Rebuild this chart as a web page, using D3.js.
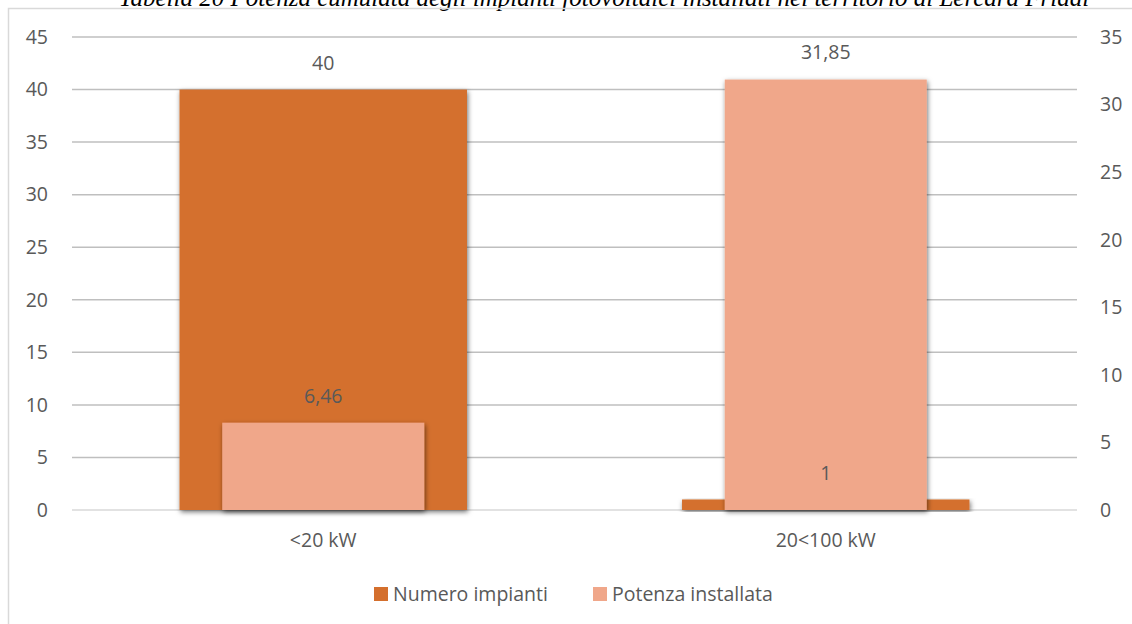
<!DOCTYPE html>
<html>
<head>
<meta charset="utf-8">
<script src="https://cdn.jsdelivr.net/npm/d3@7"></script>
<style>
  body { margin: 0; background: #fff; }
  svg text { font-family: "Open Sans", "Liberation Sans", sans-serif; fill: #595959; }
  svg text.title { font-family: "Liberation Serif", serif; font-style: italic; fill: #000; }
</style>
</head>
<body>
<svg id="chart" width="1132" height="624"></svg>
<script>
var categories = ["<20 kW", "20<100 kW"];
var numeroImpianti = [40, 1];
var potenzaInstallata = [6.46, 31.85];
var leftTicks = [0, 5, 10, 15, 20, 25, 30, 35, 40, 45];
var rightTicks = [0, 5, 10, 15, 20, 25, 30, 35];
var seriesNames = ["Numero impianti", "Potenza installata"];
var colors = ["#d46f2d", "#f0a78a"];

var svg = d3.select("#chart");
var margin = { top: 37, bottom: 114, left: 72, right: 55 };
var width = 1132, height = 624;
var fontSize = "19.5px";

var x = d3.scaleBand().domain(categories).range([margin.left, width - margin.right]);
var yLeft = d3.scaleLinear().domain([0, 45]).range([height - margin.bottom, margin.top]);
var yRight = d3.scaleLinear().domain([0, 35]).range([height - margin.bottom, margin.top]);
var fmt = function(v) { return String(v).replace(".", ","); };

var defs = svg.append("defs");
var shadow = defs.append("filter").attr("id", "shadow")
    .attr("x", "-10%").attr("y", "-10%").attr("width", "120%").attr("height", "120%");
shadow.append("feDropShadow")
    .attr("dx", 1).attr("dy", 2).attr("stdDeviation", 2.5)
    .attr("flood-color", "#000").attr("flood-opacity", 0.55);

// title, cut at the top of the frame
svg.append("text")
    .attr("class", "title")
    .attr("x", 604).attr("y", 6)
    .attr("text-anchor", "middle")
    .style("font-size", "25px")
    .text("Tabella 20 Potenza cumulata degli impianti fotovoltaici installati nel territorio di Lercara Friddi");

// chart frame
svg.append("rect")
    .attr("x", 8.5).attr("y", 8.5)
    .attr("width", 1140).attr("height", 640)
    .attr("fill", "none").attr("stroke", "#d9d9d9").attr("stroke-width", 1.5);

// gridlines
svg.append("g").selectAll("line")
    .data(leftTicks)
    .enter().append("line")
    .attr("x1", margin.left).attr("x2", width - margin.right)
    .attr("y1", function(d) { return yLeft(d); })
    .attr("y2", function(d) { return yLeft(d); })
    .attr("stroke", function(d) { return d === 0 ? "#d9d9d9" : "#bfbfbf"; })
    .attr("stroke-width", 1.5);

// left axis labels
svg.append("g").selectAll("text")
    .data(leftTicks)
    .enter().append("text")
    .attr("x", 48).attr("y", function(d) { return yLeft(d); })
    .attr("dy", "0.35em")
    .attr("text-anchor", "end")
    .style("font-size", fontSize)
    .text(function(d) { return d; });

// right axis labels
svg.append("g").selectAll("text")
    .data(rightTicks)
    .enter().append("text")
    .attr("x", 1100).attr("y", function(d) { return yRight(d); })
    .attr("dy", "0.35em")
    .attr("text-anchor", "start")
    .style("font-size", fontSize)
    .text(function(d) { return d; });

var bw = x.bandwidth();
var numW = bw * 0.572, potW = bw * 0.402;
var base = height - margin.bottom;

// Numero impianti (left axis)
svg.append("g").selectAll("rect")
    .data(numeroImpianti)
    .enter().append("rect")
    .attr("x", function(d, i) { return x(categories[i]) + (bw - numW) / 2; })
    .attr("y", function(d) { return yLeft(d); })
    .attr("width", numW)
    .attr("height", function(d) { return base - yLeft(d); })
    .attr("fill", colors[0])
    .attr("filter", "url(#shadow)");

// Potenza installata (right axis)
svg.append("g").selectAll("rect")
    .data(potenzaInstallata)
    .enter().append("rect")
    .attr("x", function(d, i) { return x(categories[i]) + (bw - potW) / 2; })
    .attr("y", function(d) { return yRight(d); })
    .attr("width", potW)
    .attr("height", function(d) { return base - yRight(d); })
    .attr("fill", colors[1])
    .attr("filter", "url(#shadow)");

// data labels
svg.append("g").selectAll("text")
    .data(numeroImpianti)
    .enter().append("text")
    .attr("x", function(d, i) { return x(categories[i]) + bw / 2; })
    .attr("y", function(d) { return yLeft(d) - 26; })
    .attr("dy", "0.35em")
    .attr("text-anchor", "middle")
    .style("font-size", fontSize)
    .text(fmt);

svg.append("g").selectAll("text")
    .data(potenzaInstallata)
    .enter().append("text")
    .attr("x", function(d, i) { return x(categories[i]) + bw / 2; })
    .attr("y", function(d) { return yRight(d) - 27; })
    .attr("dy", "0.35em")
    .attr("text-anchor", "middle")
    .style("font-size", fontSize)
    .text(fmt);

// category labels
svg.append("g").selectAll("text")
    .data(categories)
    .enter().append("text")
    .attr("x", function(d) { return x(d) + bw / 2; })
    .attr("y", 540)
    .attr("dy", "0.35em")
    .attr("text-anchor", "middle")
    .style("font-size", fontSize)
    .text(function(d) { return d; });

// legend
var legendX = [374, 593];
var legend = svg.append("g").selectAll("g")
    .data(seriesNames)
    .enter().append("g")
    .attr("transform", function(d, i) { return "translate(" + legendX[i] + ",594)"; });
legend.append("rect")
    .attr("x", 0).attr("y", -7)
    .attr("width", 14).attr("height", 14)
    .attr("fill", function(d, i) { return colors[i]; });
legend.append("text")
    .attr("x", 19).attr("y", 0)
    .attr("dy", "0.35em")
    .style("font-size", fontSize)
    .text(function(d) { return d; });
</script>
</body>
</html>
